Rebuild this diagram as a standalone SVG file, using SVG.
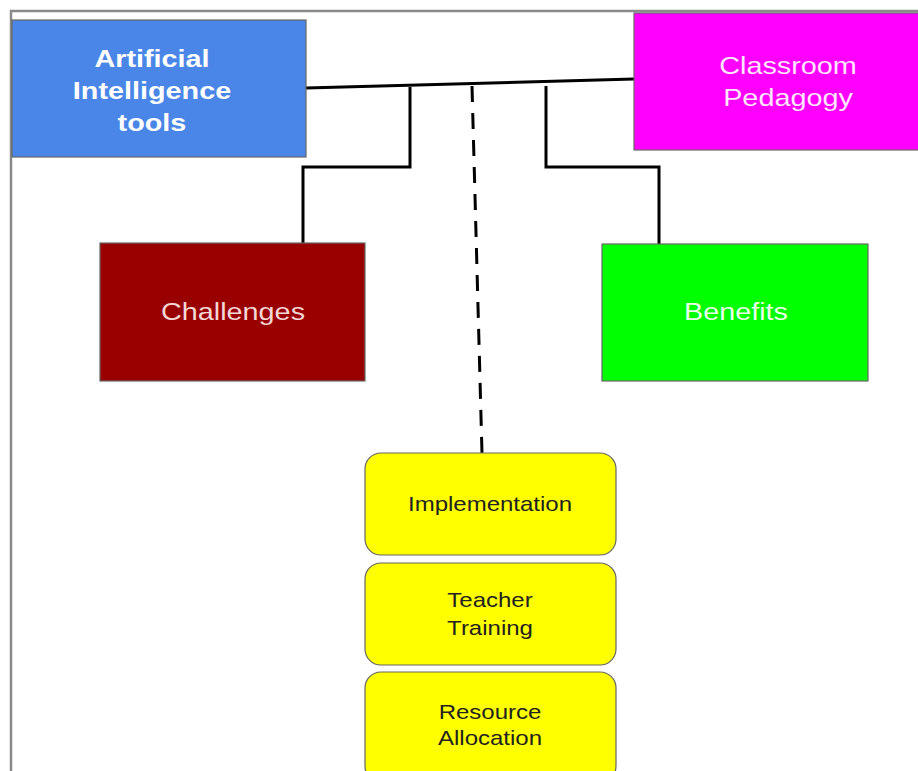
<svg xmlns="http://www.w3.org/2000/svg" width="918" height="771" viewBox="0 0 918 771">
<style>
.box{stroke:#666;stroke-width:1.2}
.t{font-family:"Liberation Sans",Arial,sans-serif;text-anchor:middle}
.conn{fill:none;stroke:#000;stroke-width:3;stroke-linejoin:miter}
</style>
<rect width="918" height="771" fill="#fff"/>
<g id="frame"><path d="M11,771 V11 H918" fill="none" stroke="#8a8a8a" stroke-width="2.5"/></g>
<g id="connectors">
<path class="conn" d="M306,88 L634,79"/>
<path class="conn" d="M410,87 V167 H303 V244"/>
<path class="conn" d="M546,86 V167 H659 V244"/>
<path class="conn" d="M472,86 L482,453" stroke-dasharray="16,11"/>
</g>
<g id="ai-tools">
<rect class="box" x="12" y="20" width="294" height="137" fill="#4a86e8"/>
<g class="t" fill="#fff" font-weight="bold" font-size="24">
<text transform="translate(152,67) scale(1.2,1)">Artificial</text>
<text transform="translate(152,99) scale(1.2,1)">Intelligence</text>
<text transform="translate(152,131) scale(1.2,1)">tools</text>
</g>
</g>
<g id="classroom-pedagogy">
<rect class="box" x="634" y="13" width="290" height="137" fill="#ff00ff"/>
<g class="t" fill="#ffe6ff" font-size="24">
<text transform="translate(788,74) scale(1.2,1)">Classroom</text>
<text transform="translate(788,106) scale(1.2,1)">Pedagogy</text>
</g>
</g>
<g id="challenges">
<rect class="box" x="100" y="243" width="265" height="138" fill="#990000"/>
<text class="t" fill="#f3d6d6" font-size="24" transform="translate(233,320) scale(1.2,1)">Challenges</text>
</g>
<g id="benefits">
<rect class="box" x="602" y="244" width="266" height="137" fill="#00ff00"/>
<text class="t" fill="#eaffea" font-size="24" transform="translate(736,320) scale(1.2,1)">Benefits</text>
</g>
<g id="implementation">
<rect class="box" x="365" y="453" width="251" height="102" rx="16" fill="#ffff00"/>
<text class="t" fill="#222" font-size="20" transform="translate(490,511) scale(1.2,1)">Implementation</text>
</g>
<g id="teacher-training">
<rect class="box" x="365" y="563" width="251" height="102" rx="16" fill="#ffff00"/>
<text class="t" fill="#222" font-size="20" transform="translate(490,607) scale(1.2,1)">Teacher</text>
<text class="t" fill="#222" font-size="20" transform="translate(490,635) scale(1.2,1)">Training</text>
</g>
<g id="resource-allocation">
<rect class="box" x="365" y="672" width="251" height="110" rx="16" fill="#ffff00"/>
<text class="t" fill="#222" font-size="20" transform="translate(490,719) scale(1.2,1)">Resource</text>
<text class="t" fill="#222" font-size="20" transform="translate(490,745) scale(1.2,1)">Allocation</text>
</g>
</svg>
